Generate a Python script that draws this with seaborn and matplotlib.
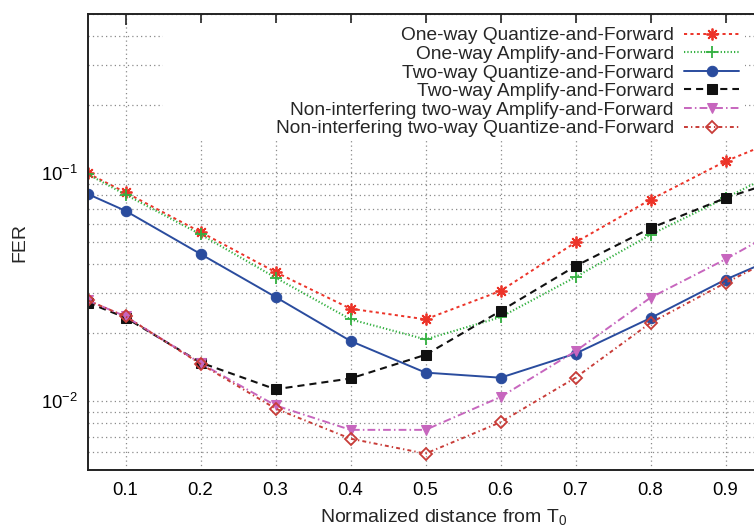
import matplotlib
matplotlib.use("Agg")
import matplotlib.pyplot as plt
import matplotlib.ticker as mticker
from matplotlib.patches import Rectangle
import numpy as np
import pandas as pd
import seaborn as sns

# ---- data ----
distance = [0.05, 0.1, 0.2, 0.3, 0.4, 0.5, 0.6, 0.7, 0.8, 0.9, 1.0]
oneway_qf = [0.100, 0.0825, 0.0553, 0.0369, 0.0255, 0.0229, 0.0305, 0.0498, 0.0767, 0.113, 0.154]
oneway_af = [0.099, 0.0807, 0.0540, 0.0349, 0.0229, 0.0187, 0.0234, 0.0351, 0.0538, 0.078, 0.114]
twoway_qf = [0.0811, 0.0685, 0.0443, 0.0287, 0.0184, 0.01337, 0.0127, 0.0162, 0.0232, 0.0342, 0.0475]
twoway_af = [0.0271, 0.0233, 0.0148, 0.0113, 0.0126, 0.0160, 0.0249, 0.0392, 0.0575, 0.078, 0.100]
nonint_af = [0.0277, 0.0236, 0.0147, 0.0096, 0.0075, 0.0075, 0.01045, 0.0166, 0.0285, 0.0420, 0.064]
nonint_qf = [0.0277, 0.0236, 0.0146, 0.0093, 0.00686, 0.0059, 0.0081, 0.0127, 0.0221, 0.0331, 0.0485]

labels = [
    "One-way Quantize-and-Forward",
    "One-way Amplify-and-Forward",
    "Two-way Quantize-and-Forward",
    "Two-way Amplify-and-Forward",
    "Non-interfering two-way Amplify-and-Forward",
    "Non-interfering two-way Quantize-and-Forward",
]
xticks = [0.1, 0.2, 0.3, 0.4, 0.5, 0.6, 0.7, 0.8, 0.9]
xticklabels = ["0.1", "0.2", "0.3", "0.4", "0.5", "0.6", "0.7", "0.8", "0.9"]

sns.set_theme(style="white")
plt.rcParams["font.family"] = ["Liberation Sans", "DejaVu Sans"]
plt.rcParams["mathtext.fontset"] = "custom"
plt.rcParams["mathtext.rm"] = "Liberation Sans"
plt.rcParams["mathtext.it"] = "Liberation Sans"

W, H = 754, 529
fig = plt.figure(figsize=(W / 100, H / 100), dpi=100)
# axes: left 88px, x=0.05..1.0 spans 712.5px (right edge beyond the picture), top 14px, bottom 470px
ax = fig.add_axes([88 / W, (H - 470) / H, 712.5 / W, 456 / H])

colors = ["#ec3328", "#33b040", "#2a4c9e", "#111111", "#c766be", "#c83c38"]
styles = [
    dict(marker=(8, 2, 0), markersize=8.5, markeredgewidth=1.3,
         linestyle=(0, (1.6, 1.7)), linewidth=1.4),
    dict(marker="+", markersize=8.5, markeredgewidth=1.3,
         linestyle=(0, (0.6, 1.0)), linewidth=1.5),
    dict(marker="o", markersize=7.5, linestyle="-", linewidth=1.4),
    dict(marker="s", markersize=7.8, linestyle=(0, (3.4, 2.4)), linewidth=1.5),
    dict(marker="v", markersize=7.8, linestyle=(0, (4, 1.6, 0.8, 1.6)), linewidth=1.4),
    dict(marker="D", markersize=6.5, markerfacecolor="none", markeredgewidth=1.3,
         linestyle=(0, (2, 1.6, 0.7, 1.6)), linewidth=1.4),
]
series = [oneway_qf, oneway_af, twoway_qf, twoway_af, nonint_af, nonint_qf]

for vals, lab, col, st in zip(series, labels, colors, styles):
    df = pd.DataFrame({"x": distance, "y": vals})
    sns.lineplot(data=df, x="x", y="y", ax=ax, label=lab, color=col,
                 markeredgecolor=col, **st)

ax.set_yscale("log")
ax.set_xlim(0.05, 1.0)
ax.set_ylim(0.005, 0.5)
ax.set_xticks(xticks)
ax.set_xticklabels(xticklabels)
ax.yaxis.set_major_locator(mticker.LogLocator(base=10, numticks=10))
ax.yaxis.set_minor_locator(mticker.LogLocator(base=10, subs=np.arange(2, 10), numticks=20))
ax.yaxis.set_minor_formatter(mticker.NullFormatter())

ax.set_axisbelow(True)
ax.grid(True, which="major", axis="both", color="#8a8a8a", linestyle=(0, (1, 2.5)), linewidth=0.9)
ax.grid(True, which="minor", axis="y", color="#8a8a8a", linestyle=(0, (1, 2.5)), linewidth=0.9)

for s in ax.spines.values():
    s.set_color("#222222")
    s.set_linewidth(1.4)

ax.tick_params(axis="both", which="major", direction="in", length=8, width=1.2,
               top=True, right=True, labelsize=13.3, colors="#222222", labelcolor="black")
ax.tick_params(axis="y", which="minor", direction="in", length=5, width=1.1, right=True,
               colors="#222222")
ax.tick_params(axis="x", which="major", pad=8.5)
ax.tick_params(axis="y", which="major", pad=7)

ax.set_xlabel(r"Normalized distance from $\mathregular{T_0}$", fontsize=14, labelpad=6)
ax.set_ylabel("FER", fontsize=14, labelpad=9)

# white key box behind the legend (hides grid there, keeps top ticks visible)
top_gap = 9 / 456
ax.add_patch(Rectangle(((163 - 88) / 712.5, (470 - 138) / 456),
                       (745 - 163) / 712.5, 1 - (470 - 138) / 456 - top_gap,
                       transform=ax.transAxes, facecolor="white", edgecolor="none", zorder=1))

leg = ax.legend(loc="upper right", bbox_to_anchor=((739 - 88) / 712.5, (470 - 27) / 456),
                frameon=False, markerfirst=False, fontsize=13.8, borderpad=0, borderaxespad=0,
                handlelength=2.85, handletextpad=0.55, labelspacing=0.06)
for t in leg.get_texts():
    t.set_ha("right")
leg.set_zorder(5)

fig.savefig("out.png", dpi=100)
